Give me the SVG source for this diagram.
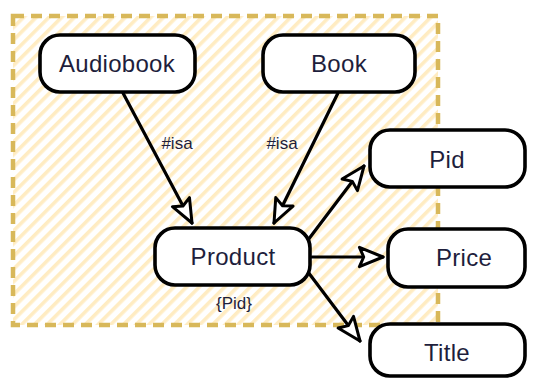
<svg xmlns="http://www.w3.org/2000/svg" width="536" height="379" viewBox="0 0 536 379">
  <defs>
    <pattern id="hatch" patternUnits="userSpaceOnUse" width="9" height="9" patternTransform="rotate(45)">
      <rect x="0" y="0" width="9" height="9" fill="#ffffff"/>
      <rect x="0" y="0" width="3.6" height="9" fill="#ffecc2"/>
    </pattern>
    <marker id="arrow" markerUnits="userSpaceOnUse" markerWidth="30" markerHeight="26" refX="24" refY="11" orient="auto" viewBox="0 0 28 22">
      <path d="M2,2 L24,11 L2,20 L6,11 Z" fill="#ffffff" stroke="#000000" stroke-width="2.8" stroke-linejoin="round"/>
    </marker>
    <style>
      .node rect { fill: #ffffff; stroke: #000000; stroke-width: 3.6; }
      .label { font-family: "Liberation Sans", Arial, sans-serif; font-size: 24px; fill: #1e1e3c; text-anchor: middle; letter-spacing: 0.3px; }
      .small { font-family: "Liberation Sans", Arial, sans-serif; font-size: 17px; fill: #1e1e3c; text-anchor: middle; }
      .edge { stroke: #000000; stroke-width: 3.2; fill: none; marker-end: url(#arrow); stroke-linecap: round; }
    </style>
  </defs>

  <!-- product group area -->
  <g id="group-area">
    <rect x="13" y="16" width="425" height="309" fill="url(#hatch)" stroke="#d8b85a" stroke-width="4.5" stroke-dasharray="11 7"/>
  </g>

  <g id="connectors">
    <line class="edge" x1="123" y1="93" x2="192" y2="223"/>
    <line class="edge" x1="338" y1="93" x2="274" y2="223"/>
    <line class="edge" x1="308" y1="240" x2="364" y2="166"/>
    <line class="edge" x1="312" y1="257" x2="383" y2="257"/>
    <line class="edge" x1="308" y1="272" x2="360" y2="341"/>
    <text class="small" x="177" y="149">#isa</text>
    <text class="small" x="282" y="149">#isa</text>
  </g>

  <g id="audiobook" class="node">
    <rect x="40" y="35" width="155" height="57" rx="20"/>
    <text class="label" x="117" y="72">Audiobook</text>
  </g>
  <g id="book" class="node">
    <rect x="263" y="35" width="152" height="57" rx="20"/>
    <text class="label" x="339" y="72">Book</text>
  </g>
  <g id="product" class="node">
    <rect x="155" y="228" width="155" height="57" rx="20"/>
    <text class="label" x="233" y="265">Product</text>
    <text class="small" x="234" y="309">{Pid}</text>
  </g>
  <g id="pid" class="node">
    <rect x="370" y="130" width="155" height="57" rx="20"/>
    <text class="label" x="447" y="168">Pid</text>
  </g>
  <g id="price" class="node">
    <rect x="388" y="229" width="137" height="58" rx="20"/>
    <text class="label" x="464" y="266">Price</text>
  </g>
  <g id="title" class="node">
    <rect x="370" y="324" width="155" height="52" rx="20"/>
    <text class="label" x="447" y="361">Title</text>
  </g>
</svg>
